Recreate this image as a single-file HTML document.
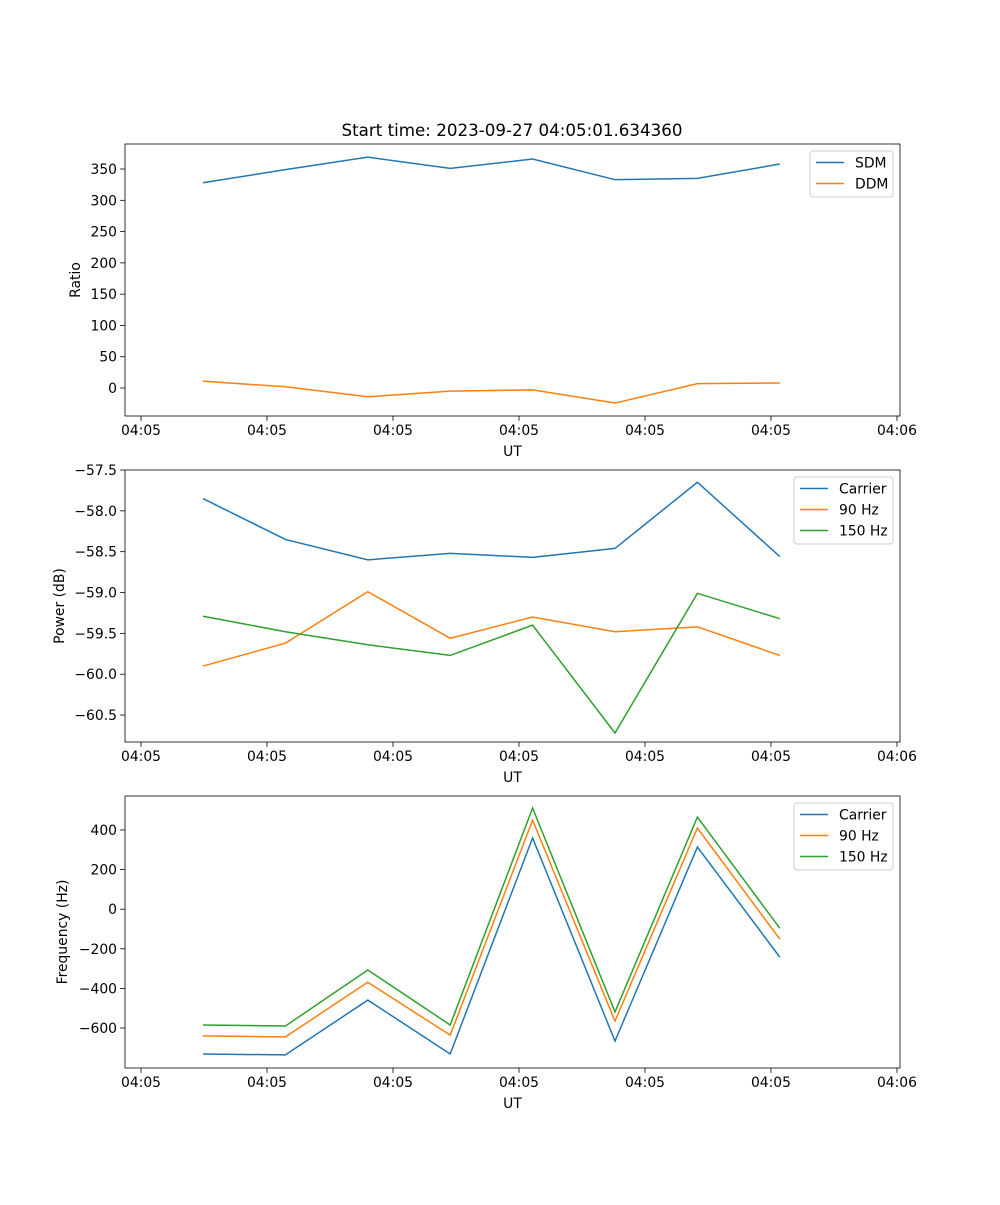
<!DOCTYPE html>
<html><head><meta charset="utf-8"><style>
body{margin:0;background:#fff}
svg text{font-family:"DejaVu Sans","Liberation Sans",sans-serif;fill:#000}
</style></head><body>
<svg id="fig" width="1000" height="1200" xmlns="http://www.w3.org/2000/svg">
<rect width="1000" height="1200" fill="#fff"/>
<text x="512" y="136" font-size="16.7" text-anchor="middle">Start time: 2023-09-27 04:05:01.634360</text>
</svg>
<script>
const times = [4.92, 11.46, 18.0, 24.54, 31.08, 37.62, 44.16, 50.7];
const xTicks = [0, 10, 20, 30, 40, 50, 60];
const xTickLabels = ["04:05","04:05","04:05","04:05","04:05","04:05","04:06"];
const sdm = [328, 349, 369, 351, 366, 333, 335, 358];
const ddm = [11, 2, -14, -5, -3, -24, 7, 8];
const powCarrier = [-57.85, -58.35, -58.6, -58.52, -58.57, -58.46, -57.65, -58.56];
const pow90 = [-59.9, -59.62, -58.99, -59.56, -59.3, -59.48, -59.42, -59.77];
const pow150 = [-59.29, -59.48, -59.64, -59.77, -59.4, -60.72, -59.01, -59.32];
const freqCarrier = [-731, -736, -459, -731, 360, -666, 314, -242];
const freq90 = [-640, -645, -369, -636, 450, -565, 410, -151];
const freq150 = [-585, -590, -307, -585, 511, -519, 465, -96];
const ticks1 = [0, 50, 100, 150, 200, 250, 300, 350];
const ticks2 = [-60.5, -60.0, -59.5, -59.0, -58.5, -58.0, -57.5];
const ticks3 = [-600, -400, -200, 0, 200, 400];

const NS = "http://www.w3.org/2000/svg";
const svg = document.getElementById('fig');
const C = ['#1f77b4', '#ff7f0e', '#2ca02c'];
function mk(tag, attrs, parent) {
  const e = document.createElementNS(NS, tag);
  for (const k in attrs) e.setAttribute(k, attrs[k]);
  (parent || svg).appendChild(e);
  return e;
}
const L = 125, R = 900, xmin = -1.27, xmax = 60.24;
const xs = t => L + (t - xmin) / (xmax - xmin) * (R - L);

function panel(name, top, bot, ymin, ymax, yticks, fmt, ylabel, ylabX, series, names, legW) {
  const g = mk('g', {});
  
  
  const ys = v => bot - (v - ymin) / (ymax - ymin) * (bot - top);
  series.forEach((s, si) => {
    const p = mk('polyline', {points: s.map((v, i) => xs(times[i]) + ',' + ys(v)).join(' '), fill: 'none', stroke: C[si], 'stroke-width': 1.5}, g);
    
    
  });
  const fr = mk('rect', {x: L, y: top, width: R - L, height: bot - top, fill: 'none', stroke: '#000', 'stroke-width': 0.8}, g);
  
  
  xTicks.forEach((t, i) => {
    const x = xs(t);
    mk('line', {x1: x, x2: x, y1: bot, y2: bot + 4.9, stroke: '#000', 'stroke-width': 0.8}, g);
    const tx = mk('text', {x: x, y: bot + 19, 'font-size': 13.9, 'text-anchor': 'middle'}, g);
    tx.textContent = xTickLabels[i];
    
    
  });
  const xl = mk('text', {x: (L + R) / 2, y: bot + 40, 'font-size': 13.9, 'text-anchor': 'middle'}, g);
  xl.textContent = 'UT';
  
  
  yticks.forEach(v => {
    const y = ys(v);
    mk('line', {x1: L - 4.9, x2: L, y1: y, y2: y, stroke: '#000', 'stroke-width': 0.8}, g);
    const tx = mk('text', {x: L - 8, y: y + 5, 'font-size': 13.9, 'text-anchor': 'end'}, g);
    tx.textContent = fmt(v);
    
    
  });
  const yl = mk('text', {x: ylabX, y: (top + bot) / 2, 'font-size': 13.9, 'text-anchor': 'middle', transform: `rotate(-90 ${ylabX} ${(top + bot) / 2})`}, g);
  yl.textContent = ylabel;
  
  
  const lg = mk('g', {}, g);
  
  
  const lx = 893 - legW, ly = top + 7, lh = 4 + names.length * 21;
  mk('rect', {x: lx, y: ly, width: legW, height: lh, rx: 3, fill: '#fff', 'fill-opacity': 0.8, stroke: '#ccc'}, lg);
  names.forEach((n, i) => {
    const y = ly + 11.5 + i * 21;
    mk('line', {x1: lx + 6, x2: lx + 34, y1: y, y2: y, stroke: C[i], 'stroke-width': 1.5}, lg);
    const t = mk('text', {x: lx + 45, y: y + 5, 'font-size': 13.9}, lg);
    t.textContent = n;
    
    
  });
}
panel('ratio-panel', 144, 416, -44.7, 390, ticks1, v => v.toString().replace('-', '\u2212'), 'Ratio', 80, [sdm, ddm], ['SDM', 'DDM'], 83);
panel('power-panel', 470, 742, -60.83, -57.5, ticks2, v => v.toFixed(1).replace('-', '\u2212'), 'Power (dB)', 64, [powCarrier, pow90, pow150], ['Carrier', '90 Hz', '150 Hz'], 99);
panel('frequency-panel', 796, 1068, -802, 571.7, ticks3, v => v.toString().replace('-', '\u2212'), 'Frequency (Hz)', 67, [freqCarrier, freq90, freq150], ['Carrier', '90 Hz', '150 Hz'], 99);
</script>
</body></html>
